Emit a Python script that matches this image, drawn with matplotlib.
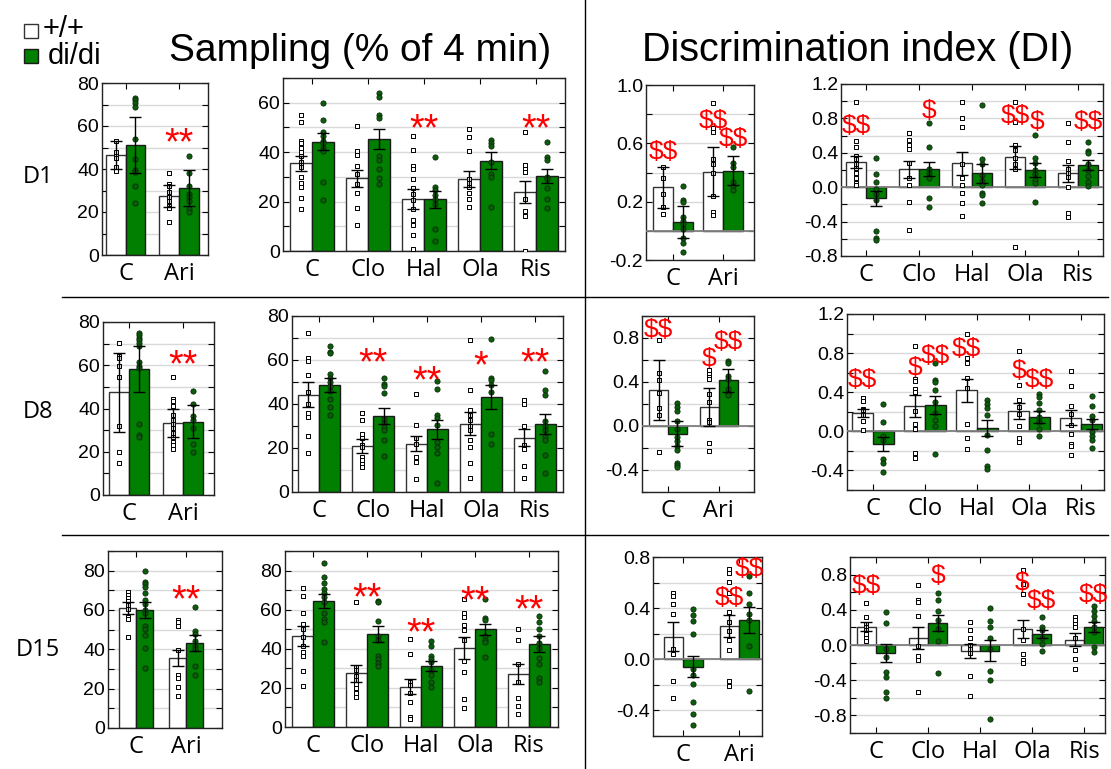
import matplotlib
matplotlib.use("Agg")
import matplotlib.pyplot as plt
import numpy as np
from matplotlib.patches import Rectangle
from matplotlib.lines import Line2D
from matplotlib.ticker import FormatStrFormatter, MultipleLocator

W, H = 1111, 769

groups_small = ["C", "Ari"]
groups_large = ["C", "Clo", "Hal", "Ola", "Ris"]

# ---------------- D1 ----------------
d1_samp_ca_wt_mean = [46.6, 27.5]
d1_samp_ca_wt_err = [6.6, 5.0]
d1_samp_ca_ko_mean = [51.2, 31.0]
d1_samp_ca_ko_err = [13.0, 8.4]
d1_samp_ca_wt_pts = [[53, 48, 46, 45, 41, 39],
                     [38, 33, 32, 29.5, 27, 25, 23, 22, 15.5]]
d1_samp_ca_ko_pts = [[73, 72, 70.5, 69, 54, 44.5, 39.5, 38.5, 32, 24],
                     [46, 38, 32, 28.5, 27, 25, 21.5, 20]]

d1_samp_dr_wt_mean = [35.5, 29.4, 20.9, 29.2, 23.9]
d1_samp_dr_wt_err = [3.0, 3.5, 4.0, 3.3, 4.4]
d1_samp_dr_ko_mean = [44.2, 45.3, 20.9, 36.5, 30.4]
d1_samp_dr_ko_err = [3.4, 4.2, 3.5, 3.5, 2.7]
d1_samp_dr_wt_pts = [[55, 52, 44.5, 43.5, 41.5, 40, 38.5, 36, 35, 34, 30, 27.5, 26, 21.5, 17],
                     [50.5, 40.5, 39, 34.5, 31, 27, 23.5, 17.5, 10.5],
                     [46.5, 41, 34.5, 33, 29, 25.5, 23, 20.5, 17, 12.5, 10.5, 6.5, 1],
                     [49.5, 46, 40.5, 29, 27.5, 26, 23.5, 21, 18],
                     [48, 35, 33, 32, 21, 16, 14, 0]]
d1_samp_dr_ko_pts = [[60, 53, 48, 46.5, 44.5, 43.5, 41.5, 40.5, 28, 20.5],
                     [64, 62.5, 55, 54, 38.5, 37, 33, 29.5, 27],
                     [38, 26, 24.5, 22.5, 21, 19, 9, 4],
                     [45, 43.5, 42.5, 36, 31, 30, 18],
                     [44, 38, 37, 30, 29, 25.5, 21, 17.5]]

d1_di_ca_wt_mean = [0.30, 0.406]
d1_di_ca_wt_err = [0.14, 0.17]
d1_di_ca_ko_mean = [0.063, 0.413]
d1_di_ca_ko_err = [0.11, 0.10]
d1_di_ca_wt_pts = [[0.44, 0.365, 0.253, 0.166, 0.116],
                   [0.874, 0.703, 0.68, 0.49, 0.458, 0.394, 0.239, 0.131, 0.109]]
d1_di_ca_ko_pts = [[0.307, 0.211, 0.195, 0.097, 0.07, 0.045, 0.01, -0.05, -0.08, -0.147],
                   [0.573, 0.463, 0.435, 0.337, 0.307, 0.28]]

d1_di_dr_wt_mean = [0.289, 0.208, 0.277, 0.347, 0.161]
d1_di_dr_wt_err = [0.07, 0.10, 0.135, 0.135, 0.10]
d1_di_dr_ko_mean = [-0.13, 0.208, 0.161, 0.20, 0.262]
d1_di_dr_ko_err = [0.09, 0.08, 0.11, 0.08, 0.06]
d1_di_dr_wt_pts = [[0.995, 0.537, 0.471, 0.363, 0.324, 0.266, 0.219, 0.161, 0.103, 0.052, 0.025],
                   [0.626, 0.549, 0.491, 0.44, 0.277, 0.103, 0.025, -0.168, -0.498],
                   [0.995, 0.809, 0.704, 0.27, 0.103, 0.025, -0.064, -0.18, -0.335],
                   [0.995, 0.754, 0.491, 0.433, 0.336, 0.266, 0.208, -0.69],
                   [0.743, 0.529, 0.305, 0.208, 0.161, 0.114, 0.0, -0.296, -0.343]]
d1_di_dr_ko_pts = [[0.336, 0.153, 0.064, -0.025, -0.079, -0.149, -0.505, -0.595, -0.614],
                   [0.743, 0.471, 0.208, 0.161, 0.103, -0.13, -0.226],
                   [0.956, 0.324, 0.27, 0.142, 0.072, 0.025, -0.064, -0.09, -0.18],
                   [0.607, 0.336, 0.277, 0.2, 0.149, 0.083, 0.044, -0.168],
                   [0.529, 0.425, 0.394, 0.266, 0.2, 0.13, 0.064, 0.014]]

# ---------------- D8 ----------------
d8_samp_ca_wt_mean = [47.4, 33.4]
d8_samp_ca_wt_err = [18.4, 6.5]
d8_samp_ca_ko_mean = [58.2, 33.8]
d8_samp_ca_ko_err = [10.5, 7.6]
d8_samp_ca_wt_pts = [[70.3, 64.2, 63.5, 59.5, 54.6, 31.8, 19.7, 14.9],
                     [54.6, 44.6, 43.5, 41.1, 36.9, 34.6, 32.8, 30.8, 28.9, 26.6, 24.6, 23.1, 21.5]]
d8_samp_ca_ko_pts = [[75, 74.2, 72.8, 71.5, 70.3, 68.9, 61.5, 59.5, 58.5, 32.8, 27.7, 26.9],
                     [48, 42, 36.5, 34.6, 30.8, 23.5, 20]]

d8_samp_dr_wt_mean = [44.3, 20.9, 22.0, 31.1, 24.7]
d8_samp_dr_wt_err = [5.5, 3.0, 3.4, 5.2, 4.0]
d8_samp_dr_ko_mean = [48.6, 34.6, 28.5, 43.2, 30.8]
d8_samp_dr_ko_err = [3.0, 3.8, 4.4, 5.3, 4.6]
d8_samp_dr_wt_pts = [[72.4, 60.7, 59.6, 53.1, 45.5, 40.2, 36, 34.1, 25.3, 17.8],
                     [35.7, 32.9, 26.3, 24.7, 21.2, 20.5, 15.9, 14.4, 12.9, 11.4],
                     [44.5, 30.3, 24.7, 21.7, 15.9, 13.7, 5.8],
                     [69.3, 46.3, 37.2, 35.2, 32.9, 29.9, 28.1, 23.5, 20.5, 13.2, 6.5],
                     [41.7, 39.9, 29.9, 21.2, 19.7, 11.8, 6.4]]
d8_samp_dr_ko_pts = [[66.5, 63.7, 63, 53.6, 52, 50.1, 48.1, 46, 42.5, 38.7, 35.2],
                     [51.9, 49, 48.1, 45.2, 33.4, 31.4, 29.6, 28.1, 23.5, 16.2],
                     [50.4, 46.6, 34.9, 33.8, 30.3, 22.8, 20.5, 17.8, 4.1],
                     [69.5, 52, 50.8, 48.6, 45.5, 26.3, 21.7],
                     [55.1, 46.3, 44, 32.3, 29.9, 28.1, 25, 23.5, 16.7, 8.8]]

d8_di_ca_wt_mean = [0.326, 0.172]
d8_di_ca_wt_err = [0.27, 0.173]
d8_di_ca_ko_mean = [-0.069, 0.414]
d8_di_ca_ko_err = [0.113, 0.105]
d8_di_ca_wt_pts = [[0.779, 0.483, 0.414, 0.296, 0.166, 0.097, -0.236],
                   [0.505, 0.477, 0.444, 0.423, 0.293, 0.218, 0.054, 0.036, -0.157, -0.227]]
d8_di_ca_ko_pts = [[0.211, 0.175, 0.136, 0.045, -0.03, -0.097, -0.136, -0.181, -0.218, -0.332, -0.356, -0.372],
                   [0.595, 0.574, 0.453, 0.423, 0.338, 0.302, 0.278]]

d8_di_dr_wt_mean = [0.191, 0.26, 0.42, 0.205, 0.14]
d8_di_dr_wt_err = [0.04, 0.11, 0.12, 0.08, 0.08]
d8_di_dr_ko_mean = [-0.133, 0.27, 0.034, 0.147, 0.075]
d8_di_dr_ko_err = [0.07, 0.09, 0.08, 0.06, 0.055]
d8_di_dr_wt_pts = [[0.345, 0.311, 0.232, 0.215, 0.164, 0.106, 0.01],
                   [0.875, 0.54, 0.516, 0.438, 0.403, 0.205, 0.079, 0.027, -0.222, -0.274],
                   [1.0, 0.752, 0.701, 0.55, 0.448, 0.079, -0.068, -0.178],
                   [0.821, 0.472, 0.318, 0.25, 0.181, 0.051, -0.068, -0.109],
                   [0.619, 0.462, 0.26, 0.181, 0.062, -0.024, -0.126, -0.15, -0.246]]
d8_di_dr_ko_pts = [[0.284, 0.096, -0.051, -0.085, -0.28, -0.325, -0.417],
                   [0.694, 0.523, 0.506, 0.427, 0.301, 0.188, 0.12, 0.051, -0.236],
                   [0.318, 0.284, 0.243, 0.171, -0.041, -0.188, -0.359, -0.383],
                   [0.386, 0.352, 0.294, 0.222, 0.147, 0.096, 0.027, -0.051],
                   [0.359, 0.256, 0.154, 0.113, -0.007, -0.051, -0.092, -0.168]]

# ---------------- D15 ----------------
d15_samp_ca_wt_mean = [61.2, 35.6]
d15_samp_ca_wt_err = [3.0, 4.1]
d15_samp_ca_ko_mean = [60.0, 43.2]
d15_samp_ca_ko_err = [3.9, 4.0]
d15_samp_ca_wt_pts = [[68.9, 67.7, 66.3, 64.6, 62.6, 60.3, 56.6, 55.6, 46.3],
                      [54.7, 53.8, 52.1, 39.8, 27, 25.3, 21, 16.4]]
d15_samp_ca_ko_pts = [[79.7, 74.4, 73.2, 71.8, 68.5, 65.1, 63.2, 59.8, 58.6, 51.8, 50.4, 47.5, 40.7, 30.4],
                      [61.7, 49.2, 47.9, 44.1, 41.9, 40.2, 31.3, 27]]

d15_samp_dr_wt_mean = [46.5, 27.5, 20.7, 40.4, 27.0]
d15_samp_dr_wt_err = [5.3, 4.4, 4.0, 5.4, 5.0]
d15_samp_dr_ko_mean = [64.5, 47.7, 31.3, 49.9, 42.5]
d15_samp_dr_ko_err = [3.7, 4.0, 2.7, 3.0, 3.9]
d15_samp_dr_wt_pts = [[70.9, 67.1, 58.5, 52.8, 50.3, 46, 41.3, 38.2, 36.5, 28.7, 21.2],
                      [63.7, 30.6, 29.3, 26.2, 23.8, 21.9, 19.8, 17.6, 15.5],
                      [45.1, 37.5, 23.2, 21.5, 17.2, 12.9, 5.2, 4],
                      [65.4, 58.2, 56.5, 52, 49.6, 44.7, 33.6, 27.9, 14.1, 9.8],
                      [49.9, 44.7, 32.2, 22.9, 15, 10.8, 6.4]]
d15_samp_dr_ko_pts = [[83.8, 76.9, 73.5, 70.6, 68.5, 66.6, 63.7, 58.2, 55.1, 53.7, 43.4],
                      [64.5, 63.7, 54.2, 46.5, 44.7, 36.1, 34.8, 32.7, 31.3],
                      [43.9, 41.3, 36.5, 34.8, 33, 28.9, 26.7, 23.2, 20.7],
                      [65.7, 55.9, 54.7, 46.5, 44.7, 43.4, 35.6],
                      [56.8, 53.9, 50.3, 46.5, 43, 40.4, 35.3, 32.4, 25, 23.2]]

d15_di_ca_wt_mean = [0.178, 0.261]
d15_di_ca_wt_err = [0.11, 0.087]
d15_di_ca_ko_mean = [-0.057, 0.308]
d15_di_ca_ko_err = [0.08, 0.10]
d15_di_ca_wt_pts = [[0.522, 0.496, 0.436, 0.358, 0.078, 0.039, -0.17, -0.3],
                    [0.705, 0.674, 0.606, 0.522, 0.373, 0.295, 0.222, 0.149, 0.07, -0.17, -0.209]]
d15_di_ca_ko_pts = [[0.392, 0.347, 0.3, 0.201, -0.073, -0.125, -0.196, -0.334, -0.431, -0.517],
                    [0.648, 0.517, 0.436, 0.352, 0.308, 0.104, -0.248]]

d15_di_dr_wt_mean = [0.209, 0.08, -0.072, 0.183, 0.061]
d15_di_dr_wt_err = [0.05, 0.12, 0.08, 0.10, 0.07]
d15_di_dr_ko_mean = [-0.091, 0.247, -0.065, 0.125, 0.209]
d15_di_dr_ko_err = [0.10, 0.09, 0.12, 0.045, 0.057]
d15_di_dr_wt_pts = [[0.479, 0.323, 0.24, 0.209, 0.171, 0.125, 0.076, 0.049],
                    [0.677, 0.506, 0.487, 0.335, -0.008, -0.122, -0.171, -0.529],
                    [0.259, 0.171, 0.076, 0.004, -0.046, -0.091, -0.35, -0.578],
                    [0.848, 0.696, 0.582, 0.183, 0.057, -0.103, -0.171, -0.209],
                    [0.323, 0.285, 0.24, 0.2, 0.076, -0.057, -0.16, -0.274]]
d15_di_dr_ko_pts = [[0.38, 0.247, -0.046, -0.141, -0.312, -0.369, -0.529, -0.597],
                    [0.589, 0.506, 0.392, 0.289, 0.183, 0.049, -0.319],
                    [0.418, 0.278, 0.209, 0.076, -0.046, -0.293, -0.399, -0.844],
                    [0.323, 0.209, 0.171, 0.076, 0.011, -0.065],
                    [0.441, 0.392, 0.335, 0.278, 0.209, 0.144, -0.027, -0.084]]

# significance marks: (text, group index, side -1 wt / 0 centre / +1 ko, y)
d1_samp_ca_marks = [("**", 1, 0, 56.7)]
d1_samp_dr_marks = [("**", 2, 0, 53.6), ("**", 4, 0, 53.6)]
d1_di_ca_marks = [("$$", 0, -1, 0.56), ("$$", 1, -1, 0.77), ("$$", 1, 1, 0.646)]
d1_di_dr_marks = [("$$", 0, -1, 0.743), ("$", 1, 1, 0.917), ("$$", 3, -1, 0.859),
                  ("$", 3, 1.25, 0.789), ("$$", 4, 1, 0.789)]
d8_samp_ca_marks = [("**", 1, 0, 64.6)]
d8_samp_dr_marks = [("**", 1, 0, 63), ("**", 2, 0, 54.9), ("*", 3, 0, 61.9), ("**", 4, 0, 63)]
d8_di_ca_marks = [("$$", 0, -1, 0.891), ("$", 1, -1, 0.628), ("$$", 1, 1, 0.79)]
d8_di_dr_marks = [("$$", 0, -1, 0.55), ("$", 1, -1, 0.677), ("$$", 1, 1, 0.797),
                  ("$$", 2, -1, 0.865), ("$", 3, -1, 0.643), ("$$", 3, 1, 0.55)]
d15_samp_ca_marks = [("**", 1, 0, 70.3)]
d15_samp_dr_marks = [("**", 1, 0, 70.9), ("**", 2, 0, 53.4), ("**", 3, 0, 69.7), ("**", 4, 0, 64.9)]
d15_di_ca_marks = [("$$", 1, -1, 0.496), ("$$", 1, 1, 0.723)]
d15_di_dr_marks = [("$$", 0, -1, 0.696), ("$", 1, 1, 0.81), ("$", 3, -1, 0.734),
                   ("$$", 3, 1, 0.525), ("$$", 4, 1, 0.6)]

GREEN = "#007f00"
TICK_FONT = "Liberation Sans"
LABEL_FONT = "Open Sans"

fig = plt.figure(figsize=(W / 100, H / 100), dpi=100)


def add_ax(left, top, right, bottom):
    return fig.add_axes([left / W, 1 - bottom / H, (right - left) / W, (bottom - top) / H])


def panel(box, labels, wt_m, wt_e, wt_p, ko_m, ko_e, ko_p, marks,
          xlim, width, ylim, yticks, ystep, fmt, zero=False):
    ax = add_ax(*box)
    x = np.arange(len(labels))
    xw = x - width / 2
    xk = x + width / 2
    ax.bar(xw, wt_m, width, color="white", edgecolor="#333333", lw=1, zorder=2)
    ax.bar(xk, ko_m, width, color=GREEN, edgecolor="#1a1a1a", lw=1, zorder=2)
    for i in range(len(labels)):
        ax.scatter([xw[i]] * len(wt_p[i]), wt_p[i], marker="s", s=11,
                   facecolor="white", edgecolor="black", lw=0.7, zorder=4)
        ax.scatter([xk[i]] * len(ko_p[i]), ko_p[i], marker="o", s=14,
                   facecolor="#0b5d0b", edgecolor="#0a2a0a", lw=0.6, zorder=4)
    ax.errorbar(xw, wt_m, yerr=wt_e, fmt="none", ecolor="black", elinewidth=1,
                capsize=4, capthick=1, zorder=5)
    ax.errorbar(xk, ko_m, yerr=ko_e, fmt="none", ecolor="black", elinewidth=1,
                capsize=4, capthick=1, zorder=5)
    if zero:
        ax.axhline(0, color="#808080", lw=1.3, zorder=3)
    for txt, gi, side, yv in marks:
        if "*" in txt:
            fs, k = 27, 0.57
        else:
            fs, k = 19, 0.36
        # baseline shifted down so the glyph centre sits on the y value
        ax.annotate(txt, (gi + side * width / 2, yv), xytext=(0, -k * fs),
                    textcoords="offset points", color="red", fontsize=fs,
                    family=TICK_FONT, ha="center", va="baseline", zorder=6,
                    annotation_clip=False, parse_math=False)
    ax.set_xlim(*xlim)
    ax.set_ylim(*ylim)
    ax.set_xticks(x)
    ax.set_xticklabels(labels, fontsize=17, family=LABEL_FONT)
    ax.set_yticks(yticks)
    ax.yaxis.set_major_formatter(FormatStrFormatter(fmt))
    ax.yaxis.set_minor_locator(MultipleLocator(ystep))
    for lab in ax.get_yticklabels():
        lab.set_family(TICK_FONT)
        lab.set_fontsize(14)
    ax.grid(axis="y", which="both", color="#d9d9d9", lw=1)
    ax.set_axisbelow(True)
    ax.tick_params(which="both", direction="in", top=True, right=True, length=4, width=0.8)
    ax.tick_params(axis="x", which="minor", top=False, bottom=False)
    ax.tick_params(axis="x", pad=5)
    ax.tick_params(axis="y", pad=2)
    for s in ax.spines.values():
        s.set_linewidth(1)
        s.set_color("#222222")
    return ax


samp_ticks = [0, 20, 40, 60, 80]

# row D1
panel((102, 83, 208, 255), groups_small, d1_samp_ca_wt_mean, d1_samp_ca_wt_err, d1_samp_ca_wt_pts,
      d1_samp_ca_ko_mean, d1_samp_ca_ko_err, d1_samp_ca_ko_pts, d1_samp_ca_marks,
      (-0.44, 1.54), 0.37, (0, 80), samp_ticks, 10, "%d")
panel((283, 78, 565, 251), groups_large, d1_samp_dr_wt_mean, d1_samp_dr_wt_err, d1_samp_dr_wt_pts,
      d1_samp_dr_ko_mean, d1_samp_dr_ko_err, d1_samp_dr_ko_pts, d1_samp_dr_marks,
      (-0.52, 4.52), 0.4, (0, 70), [0, 20, 40, 60], 10, "%d")
panel((646, 85, 754, 260), groups_small, d1_di_ca_wt_mean, d1_di_ca_wt_err, d1_di_ca_wt_pts,
      d1_di_ca_ko_mean, d1_di_ca_ko_err, d1_di_ca_ko_pts, d1_di_ca_marks,
      (-0.54, 1.62), 0.4, (-0.2, 1.0), [-0.2, 0.2, 0.6, 1.0], 0.2, "%.1f", zero=True)
panel((841, 84, 1103, 256), groups_large, d1_di_dr_wt_mean, d1_di_dr_wt_err, d1_di_dr_wt_pts,
      d1_di_dr_ko_mean, d1_di_dr_ko_err, d1_di_dr_ko_pts, d1_di_dr_marks,
      (-0.47, 4.47), 0.37, (-0.8, 1.2), [-0.8, -0.4, 0.0, 0.4, 0.8, 1.2], 0.2, "%.1f", zero=True)

# row D8
panel((103, 322, 214, 495), groups_small, d8_samp_ca_wt_mean, d8_samp_ca_wt_err, d8_samp_ca_wt_pts,
      d8_samp_ca_ko_mean, d8_samp_ca_ko_err, d8_samp_ca_ko_pts, d8_samp_ca_marks,
      (-0.48, 1.57), 0.37, (0, 80), samp_ticks, 10, "%d")
panel((292, 316, 563, 492), groups_large, d8_samp_dr_wt_mean, d8_samp_dr_wt_err, d8_samp_dr_wt_pts,
      d8_samp_dr_ko_mean, d8_samp_dr_ko_err, d8_samp_dr_ko_pts, d8_samp_dr_marks,
      (-0.5, 4.52), 0.39, (0, 80), samp_ticks, 10, "%d")
panel((642, 316, 754, 492), groups_small, d8_di_ca_wt_mean, d8_di_ca_wt_err, d8_di_ca_wt_pts,
      d8_di_ca_ko_mean, d8_di_ca_ko_err, d8_di_ca_ko_pts, d8_di_ca_marks,
      (-0.51, 1.69), 0.37, (-0.6, 1.0), [-0.4, 0.0, 0.4, 0.8], 0.2, "%.1f", zero=True)
panel((847, 314, 1104, 490), groups_large, d8_di_dr_wt_mean, d8_di_dr_wt_err, d8_di_dr_wt_pts,
      d8_di_dr_ko_mean, d8_di_dr_ko_err, d8_di_dr_ko_pts, d8_di_dr_marks,
      (-0.5, 4.44), 0.4, (-0.6, 1.2), [-0.4, 0.0, 0.4, 0.8, 1.2], 0.2, "%.1f", zero=True)

# row D15
panel((108, 551, 222, 728), groups_small, d15_samp_ca_wt_mean, d15_samp_ca_wt_err, d15_samp_ca_wt_pts,
      d15_samp_ca_ko_mean, d15_samp_ca_ko_err, d15_samp_ca_ko_pts, d15_samp_ca_marks,
      (-0.56, 1.72), 0.34, (0, 90), samp_ticks, 10, "%d")
panel((285, 551, 558, 727), groups_large, d15_samp_dr_wt_mean, d15_samp_dr_wt_err, d15_samp_dr_wt_pts,
      d15_samp_dr_ko_mean, d15_samp_dr_ko_err, d15_samp_dr_ko_pts, d15_samp_dr_marks,
      (-0.52, 4.54), 0.39, (0, 90), samp_ticks, 10, "%d")
panel((653, 557, 762, 736), groups_small, d15_di_ca_wt_mean, d15_di_ca_wt_err, d15_di_ca_wt_pts,
      d15_di_ca_ko_mean, d15_di_ca_ko_err, d15_di_ca_ko_pts, d15_di_ca_marks,
      (-0.54, 1.41), 0.35, (-0.6, 0.8), [-0.4, 0.0, 0.4, 0.8], 0.2, "%.1f", zero=True)
panel((850, 557, 1105, 733), groups_large, d15_di_dr_wt_mean, d15_di_dr_wt_err, d15_di_dr_wt_pts,
      d15_di_dr_ko_mean, d15_di_dr_ko_err, d15_di_dr_ko_pts, d15_di_dr_marks,
      (-0.5, 4.4), 0.37, (-1.0, 1.0), [-0.8, -0.4, 0.0, 0.4, 0.8], 0.2, "%.1f", zero=True)

# titles, row labels, legend, separators
fig.text(360 / W, 1 - 61 / H, "Sampling (% of 4 min)", fontsize=28, family=TICK_FONT,
         ha="center", va="baseline")
fig.text(858 / W, 1 - 61 / H, "Discrimination index (DI)", fontsize=28.5, family=TICK_FONT,
         ha="center", va="baseline")
for lab, yy in [("D1", 177), ("D8", 412), ("D15", 650)]:
    fig.text(38 / W, 1 - yy / H, lab, fontsize=17, family=LABEL_FONT, ha="center", va="center")

fig.add_artist(Rectangle((24 / W, 1 - 38 / H), 14 / W, 14 / H, transform=fig.transFigure,
                         facecolor="white", edgecolor="#333333", lw=1))
fig.add_artist(Rectangle((24 / W, 1 - 63 / H), 14 / W, 14 / H, transform=fig.transFigure,
                         facecolor=GREEN, edgecolor="#1a1a1a", lw=1))
fig.text(43 / W, 1 - 37 / H, "+/+", fontsize=21, family=TICK_FONT, va="baseline")
fig.text(48 / W, 1 - 64 / H, "di/di", fontsize=21, family=TICK_FONT, va="baseline")

fig.add_artist(Line2D([585 / W, 585 / W], [0, 1], transform=fig.transFigure, color="black", lw=1))
for yy in [297, 535]:
    fig.add_artist(Line2D([62 / W, 1108 / W], [1 - yy / H, 1 - yy / H],
                          transform=fig.transFigure, color="black", lw=1))

fig.savefig("out.png", dpi=100)
